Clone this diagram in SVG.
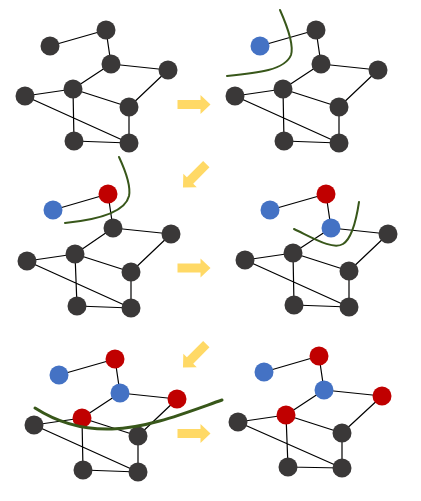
<svg xmlns="http://www.w3.org/2000/svg" width="421" height="501" viewBox="0 0 421 501">
<style>
.e{stroke:#000;stroke-width:1.2;fill:none}
.n{fill:#3A3838}
.b{fill:#4472C4}
.r{fill:#C00000}
.cut{stroke:#38571A;fill:none;stroke-width:2;stroke-linecap:round}
.ar{fill:#FFD966}
</style>
<defs>
<path id="arrow" d="M-16,-4.5 L7,-4.5 L7,-9.5 L17,0 L7,9.5 L7,4.5 L-16,4.5 Z"/>
</defs>
<rect width="421" height="501" fill="#fff"/>
<g id="connectors">
<!-- panel 1 -->
<path class="e" d="M50,46L106,30M106,30L111,64M111,64L168,70M111,64L73,89M168,70L129,107M25,96L73,89M25,96L129,143M73,89L129,107M73,89L74,141M74,141L129,143M129,107L129,143"/>
<!-- panel 2 -->
<path class="e" d="M260,46L316,30M316,30L321,64M321,64L378,70M321,64L283,89M378,70L339,107M235,96L283,89M235,96L339,143M283,89L339,107M283,89L284,141M284,141L339,143M339,107L339,143"/>
<!-- panel 3 -->
<path class="e" d="M53,210L108,194M108,194L113,228M113,228L171,234M113,228L75,254M171,234L131,272M27,261L75,254M27,261L131,308M75,254L131,272M75,254L77,306M77,306L131,308M131,272L131,308"/>
<!-- panel 4 -->
<path class="e" d="M270,210L326,194M326,194L331,228M331,228L388,234M331,228L293,253M388,234L349,271M245,260L293,253M245,260L349,307M293,253L349,271M293,253L294,305M294,305L349,307M349,271L349,307"/>
<!-- panel 5 -->
<path class="e" d="M59,375L115,359M115,359L120,393M120,393L177,399M120,393L82,418M177,399L138,436M34,425L82,418M34,425L138,472M82,418L138,436M82,418L83,470M83,470L138,472M138,436L138,472"/>
<!-- panel 6 -->
<path class="e" d="M264,372L319,356M319,356L324,390M324,390L382,396M324,390L286,415M382,396L342,433M238,422L286,415M238,422L342,468M286,415L342,433M286,415L288,467M288,467L342,468M342,433L342,468"/>
</g>
<g id="panel1">
<g id="p1A"><circle class="n" cx="50" cy="46" r="9.5"/></g>
<g id="p1B"><circle class="n" cx="106" cy="30" r="9.5"/></g>
<g id="p1C"><circle class="n" cx="111" cy="64" r="9.5"/></g>
<g id="p1D"><circle class="n" cx="168" cy="70" r="9.5"/></g>
<g id="p1E"><circle class="n" cx="25" cy="96" r="9.5"/></g>
<g id="p1F"><circle class="n" cx="73" cy="89" r="9.5"/></g>
<g id="p1G"><circle class="n" cx="129" cy="107" r="9.5"/></g>
<g id="p1H"><circle class="n" cx="74" cy="141" r="9.5"/></g>
<g id="p1I"><circle class="n" cx="129" cy="143" r="9.5"/></g>
</g>
<g id="panel2">
<g id="p2A"><circle class="b" cx="260" cy="46" r="9.5"/></g>
<g id="p2B"><circle class="n" cx="316" cy="30" r="9.5"/></g>
<g id="p2C"><circle class="n" cx="321" cy="64" r="9.5"/></g>
<g id="p2D"><circle class="n" cx="378" cy="70" r="9.5"/></g>
<g id="p2E"><circle class="n" cx="235" cy="96" r="9.5"/></g>
<g id="p2F"><circle class="n" cx="283" cy="89" r="9.5"/></g>
<g id="p2G"><circle class="n" cx="339" cy="107" r="9.5"/></g>
<g id="p2H"><circle class="n" cx="284" cy="141" r="9.5"/></g>
<g id="p2I"><circle class="n" cx="339" cy="143" r="9.5"/></g>
<path class="cut" d="M280,10 C288,28 294,45 291,55 C285,70 258,73 227,76"/>
</g>
<g id="panel3">
<g id="p3A"><circle class="b" cx="53" cy="210" r="9.5"/></g>
<g id="p3B"><circle class="r" cx="108" cy="194" r="9.5"/></g>
<g id="p3C"><circle class="n" cx="113" cy="228" r="9.5"/></g>
<g id="p3D"><circle class="n" cx="171" cy="234" r="9.5"/></g>
<g id="p3E"><circle class="n" cx="27" cy="261" r="9.5"/></g>
<g id="p3F"><circle class="n" cx="75" cy="254" r="9.5"/></g>
<g id="p3G"><circle class="n" cx="131" cy="272" r="9.5"/></g>
<g id="p3H"><circle class="n" cx="77" cy="306" r="9.5"/></g>
<g id="p3I"><circle class="n" cx="131" cy="308" r="9.5"/></g>
<path class="cut" d="M119,157 C126,172 131,186 129,196 C125,213 95,220 65,223"/>
</g>
<g id="panel4">
<g id="p4A"><circle class="b" cx="270" cy="210" r="9.5"/></g>
<g id="p4B"><circle class="r" cx="326" cy="194" r="9.5"/></g>
<g id="p4C"><circle class="b" cx="331" cy="228" r="9.5"/></g>
<g id="p4D"><circle class="n" cx="388" cy="234" r="9.5"/></g>
<g id="p4E"><circle class="n" cx="245" cy="260" r="9.5"/></g>
<g id="p4F"><circle class="n" cx="293" cy="253" r="9.5"/></g>
<g id="p4G"><circle class="n" cx="349" cy="271" r="9.5"/></g>
<g id="p4H"><circle class="n" cx="294" cy="305" r="9.5"/></g>
<g id="p4I"><circle class="n" cx="349" cy="307" r="9.5"/></g>
<path class="cut" d="M294,229 C315,239 333,250 343,244 C351,239 356,222 359,202"/>
</g>
<g id="panel5">
<g id="p5A"><circle class="b" cx="59" cy="375" r="9.5"/></g>
<g id="p5B"><circle class="r" cx="115" cy="359" r="9.5"/></g>
<g id="p5C"><circle class="b" cx="120" cy="393" r="9.5"/></g>
<g id="p5D"><circle class="r" cx="177" cy="399" r="9.5"/></g>
<g id="p5E"><circle class="n" cx="34" cy="425" r="9.5"/></g>
<g id="p5F"><circle class="r" cx="82" cy="418" r="9.5"/></g>
<g id="p5G"><circle class="n" cx="138" cy="436" r="9.5"/></g>
<g id="p5H"><circle class="n" cx="83" cy="470" r="9.5"/></g>
<g id="p5I"><circle class="n" cx="138" cy="472" r="9.5"/></g>
<path class="cut" style="stroke-width:3" d="M35,408 C60,424 84,430 112,429 C148,428 185,413 222,400"/>
</g>
<g id="panel6">
<g id="p6A"><circle class="b" cx="264" cy="372" r="9.5"/></g>
<g id="p6B"><circle class="r" cx="319" cy="356" r="9.5"/></g>
<g id="p6C"><circle class="b" cx="324" cy="390" r="9.5"/></g>
<g id="p6D"><circle class="r" cx="382" cy="396" r="9.5"/></g>
<g id="p6E"><circle class="n" cx="238" cy="422" r="9.5"/></g>
<g id="p6F"><circle class="r" cx="286" cy="415" r="9.5"/></g>
<g id="p6G"><circle class="n" cx="342" cy="433" r="9.5"/></g>
<g id="p6H"><circle class="n" cx="288" cy="467" r="9.5"/></g>
<g id="p6I"><circle class="n" cx="342" cy="468" r="9.5"/></g>
</g>
<g id="arrows">
<use href="#arrow" class="ar" transform="translate(193.5,104.5)"/>
<use href="#arrow" class="ar" transform="translate(195,175.5) rotate(135)"/>
<use href="#arrow" class="ar" transform="translate(193.5,268)"/>
<use href="#arrow" class="ar" transform="translate(195,355.5) rotate(135)"/>
<use href="#arrow" class="ar" transform="translate(193.5,433.5)"/>
</g>
</svg>
